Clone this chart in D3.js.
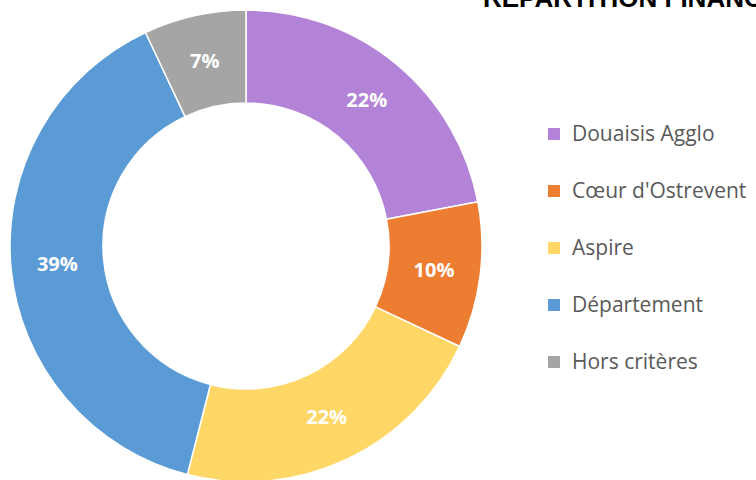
<!DOCTYPE html>
<html>
<head>
<meta charset="utf-8">
<script src="https://cdn.jsdelivr.net/npm/d3@7"></script>
<style>
  body { margin: 0; background: #fff; overflow: hidden; }
  .slice-label { font-family: "Open Sans", sans-serif; font-weight: 700; font-size: 20px; fill: #fff; }
  .legend-label { font-family: "Open Sans", sans-serif; font-size: 21px; fill: #595959; }
  .chart-title { font-family: "Liberation Sans", Arial, sans-serif; font-weight: 700; font-size: 26px; fill: #000; }
</style>
</head>
<body>
<div id="chart"></div>
<script>
/* DONUT: FINANCIAL SPLIT BY FUNDER */
const categories = ["Douaisis Agglo", "Cœur d'Ostrevent", "Aspire", "Département", "Hors critères"];
const shares = [22, 10, 22, 39, 7];
const colors = ["#b383d8", "#ed7d31", "#fed766", "#5b9bd5", "#a5a5a5"];

const width = 756;
const height = 480;
const center = {x: 246, y: 246};
const outerRadius = 236;
const innerRadius = 143;

const svg = d3.select("#chart")
    .append("svg")
    .attr("width", width)
    .attr("height", height);

const data = categories.map((c, i) => ({name: c, value: shares[i], color: colors[i]}));

const pie = d3.pie()
    .value(d => d.value)
    .sort(null);

const arc = d3.arc()
    .innerRadius(innerRadius)
    .outerRadius(outerRadius);

const g = svg.append("g")
    .attr("transform", `translate(${center.x}, ${center.y})`);

const arcs = pie(data);

g.selectAll("path")
    .data(arcs)
    .enter()
    .append("path")
    .attr("d", arc)
    .attr("fill", d => d.data.color)
    .attr("stroke", "#fff")
    .attr("stroke-width", 1.5);

// Percent labels at the middle of each ring segment
g.selectAll("text")
    .data(arcs)
    .enter()
    .append("text")
    .classed("slice-label", true)
    .attr("transform", d => `translate(${arc.centroid(d)})`)
    .attr("text-anchor", "middle")
    .attr("dy", "0.35em")
    .text(d => d.data.value + "%");

// Legend on the right
const legend = svg.append("g")
    .attr("transform", "translate(548, 133)");

const rows = legend.selectAll("g")
    .data(data)
    .enter()
    .append("g")
    .attr("transform", (d, i) => `translate(0, ${i * 57})`);

rows.append("rect")
    .attr("x", 0)
    .attr("y", -5)
    .attr("width", 12)
    .attr("height", 12)
    .attr("fill", d => d.color);

rows.append("text")
    .classed("legend-label", true)
    .attr("x", 24)
    .attr("y", 8)
    .text(d => d.name);

// Title, cut off at the top edge like the original
svg.append("text")
    .classed("chart-title", true)
    .attr("x", 483)
    .attr("y", 7)
    .text("RÉPARTITION FINANCIÈRE");
</script>
</body>
</html>
